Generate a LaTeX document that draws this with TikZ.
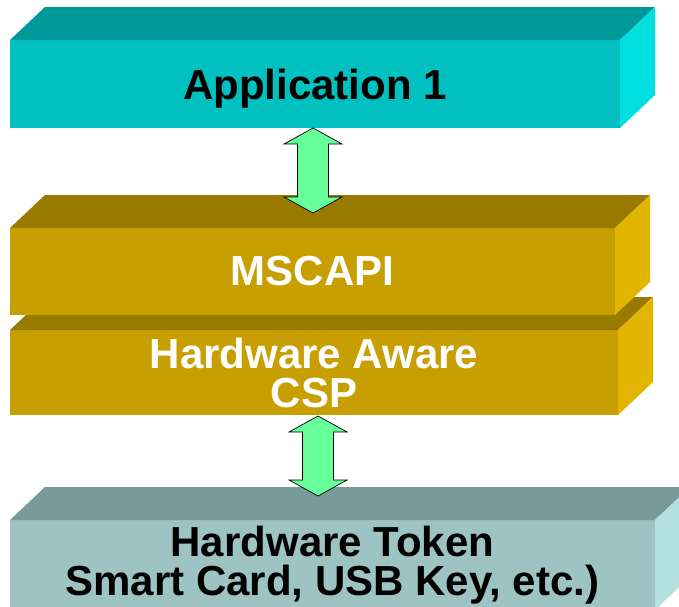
\documentclass[tikz,border=0pt]{standalone}
\usepackage{fontspec}
\setmainfont{Liberation Sans}
\usetikzlibrary{calc}

\definecolor{appfront}{HTML}{00C0C0}
\definecolor{apptop}{HTML}{009999}
\definecolor{appside}{HTML}{00E0E0}
\definecolor{cspfront}{HTML}{C89F00}
\definecolor{csptop}{HTML}{997A00}
\definecolor{cspside}{HTML}{E2B600}
\definecolor{tokfront}{HTML}{9DC3C3}
\definecolor{toktop}{HTML}{7A9999}
\definecolor{tokside}{HTML}{B4E0E0}
\definecolor{linkgreen}{HTML}{66FF99}

\tikzset{
  slab/.style={rectangle, inner sep=0pt, outer sep=0pt, align=center,
    font=\fontsize{42}{39}\selectfont\bfseries},
  link/.style={draw=black, fill=linkgreen, line width=0.7pt, line join=miter},
}

% top and right faces of a slab
\newcommand\slabsides[3]{%
  \fill[#2] (#1.north west) -- ++(35,-33) -- ($(#1.north east)+(35,-33)$) -- (#1.north east) -- cycle;
  \fill[#3] (#1.north east) -- ++(35,-33) -- ($(#1.south east)+(35,-33)$) -- (#1.south east) -- cycle;
}

% double arrow between two tips
\newcommand\updown[2]{%
  \draw[link] (#1) -- ++(29,16) -- ++(-13.5,0) -- ($(#2)+(15.5,-16)$) -- ++(13.5,0) -- (#2)
    -- ++(-29,-16) -- ++(13.5,0) -- ($(#1)+(-15.5,16)$) -- ++(-13.5,0) -- cycle;
}

\begin{document}
\begin{tikzpicture}[x=1pt,y=-1pt]
  \useasboundingbox (0,0) rectangle (679,606);
  \clip (0,0) rectangle (679,606);

  \node[slab, fill=appfront, text depth=0pt, minimum width=610pt, minimum height=88pt] (app) at (315,84) {Application 1};
  \slabsides{app}{apptop}{appside}

  \node[slab, fill=cspfront, text=white, minimum width=608pt, minimum height=85pt] (csp) at (314,372.5) {Hardware Aware\\CSP};
  \slabsides{csp}{csptop}{cspside}

  \node[slab, fill=cspfront, text=white, minimum width=605pt, minimum height=87pt] (msc) at (312.5,271.5) {MSCAPI};
  \slabsides{msc}{csptop}{cspside}

  \node[slab, fill=tokfront, minimum width=645pt, minimum height=90pt] (tok) at (332.5,565) {Hardware Token\\Smart Card, USB Key, etc.)};
  \slabsides{tok}{toktop}{tokside}

  \coordinate (a1) at ($(app.south)+(-2,0)$);
  \coordinate (b1) at ($(msc.north)+(0.5,-15)$);
  \coordinate (a2) at ($(csp.south)+(4,1)$);
  \coordinate (b2) at ($(tok.north)+(-14.5,-24)$);
  \updown{a1}{b1}
  \updown{a2}{b2}
\end{tikzpicture}
\end{document}
